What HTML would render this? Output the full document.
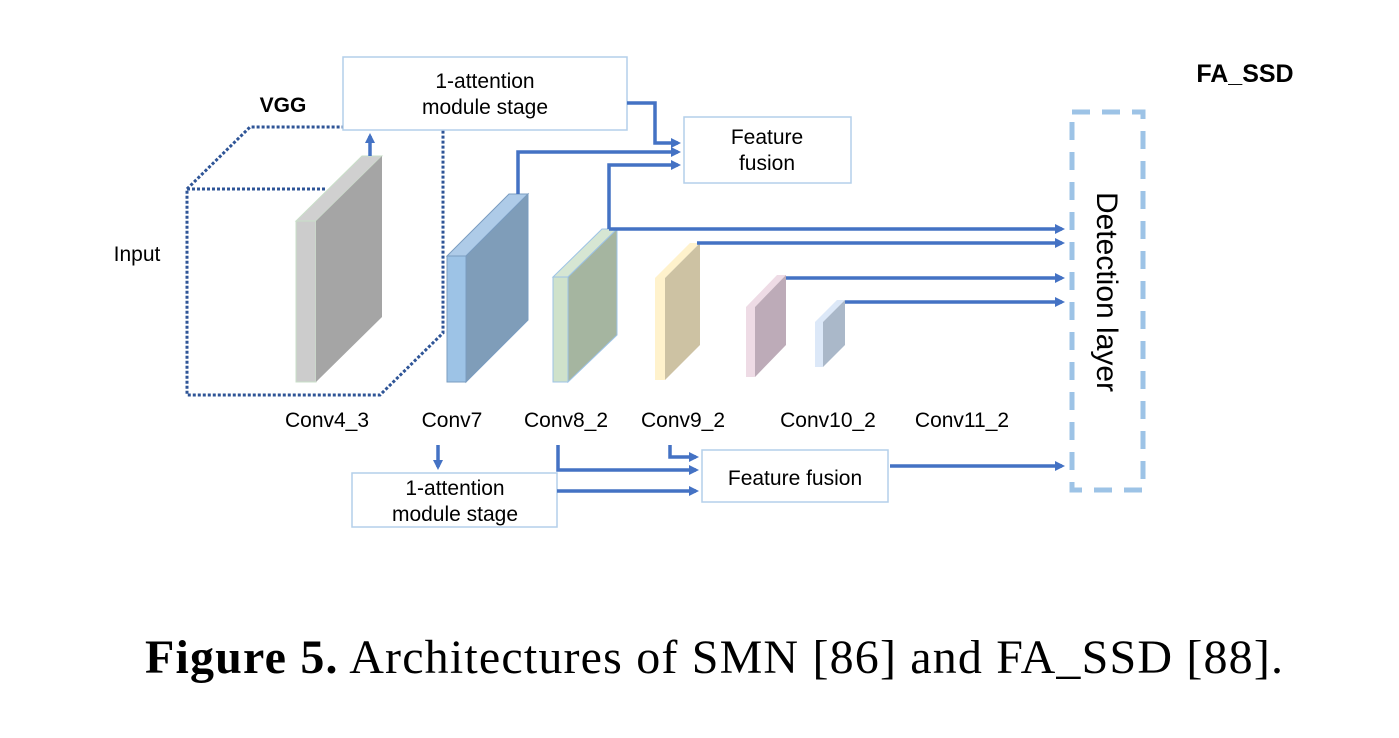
<!DOCTYPE html>
<html><head><meta charset="utf-8"><style>body{margin:0;background:#fff}svg{display:block}</style></head><body>
<svg width="1399" height="738" viewBox="0 0 1399 738" xmlns="http://www.w3.org/2000/svg" font-family="'Liberation Sans', sans-serif">
<defs><marker id="a" markerWidth="10" markerHeight="10" refX="7" refY="5" orient="auto" markerUnits="userSpaceOnUse"><path d="M0,0 L10,5 L0,10 z" fill="#4472c4"/></marker></defs>
<!-- VGG dotted -->
<path d="M187,189 L250,127 L443,127 L443,333 L380,395 L187,395 Z M187,189 L327,189" fill="none" stroke="#2f5597" stroke-width="3" stroke-dasharray="3,2"/>
<!-- conv4_3 -->
<polygon points="296,221 316,221 382,156 362,156" fill="#d0d0d0" stroke="#c9dfc8"/>
<rect x="296" y="221" width="20" height="161" fill="#cccccc" stroke="#c9dfc8"/>
<polygon points="316,221 382,156 382,317 316,382" fill="#a5a5a5"/>
<!-- conv7 -->
<polygon points="447,256 466,256 528,194 509,194" fill="#aecbe8" stroke="#7a9cc0"/>
<rect x="447" y="256" width="19" height="126" fill="#9dc3e6" stroke="#7a9cc0"/>
<polygon points="466,256 528,194 528,320 466,382" fill="#7f9db9" stroke="#7a9cc0"/>
<!-- conv8_2 -->
<polygon points="553,277 568,277 617,229 602,229" fill="#d6e6d3" stroke="#9dc3e6"/>
<rect x="553" y="277" width="15" height="105" fill="#cfe2cb" stroke="#9dc3e6"/>
<polygon points="568,277 617,229 617,335 568,382" fill="#a5b5a0" stroke="#9dc3e6"/>
<!-- conv9_2 -->
<polygon points="655,278 665,278 700,243 690,243" fill="#fff2cc"/>
<rect x="655" y="278" width="10" height="102" fill="#fff2cc"/>
<polygon points="665,278 700,243 700,345 665,380" fill="#cdc2a3"/>
<!-- conv10_2 -->
<polygon points="746,307 755,307 786,275 777,275" fill="#eedbe5"/>
<rect x="746" y="307" width="9" height="70" fill="#eedbe5"/>
<polygon points="755,307 786,275 786,345 755,377" fill="#bdabb8"/>
<!-- conv11_2 -->
<polygon points="815,322 823,322 845,300 837,300" fill="#dce8f8"/>
<rect x="815" y="322" width="8" height="45" fill="#dce8f8"/>
<polygon points="823,322 845,300 845,345 823,367" fill="#aab8c9"/>
<!-- boxes -->
<rect x="343" y="57" width="284" height="73" fill="#fff" stroke="#b4cfea" stroke-width="1.5"/>
<text x="485" y="88" font-size="21" text-anchor="middle">1-attention</text>
<text x="485" y="114" font-size="21" text-anchor="middle">module stage</text>
<rect x="684" y="117" width="167" height="66" fill="#fff" stroke="#b4cfea" stroke-width="1.5"/>
<text x="767" y="144" font-size="21" text-anchor="middle">Feature</text>
<text x="767" y="170" font-size="21" text-anchor="middle">fusion</text>
<rect x="352" y="473" width="205" height="54" fill="#fff" stroke="#b4cfea" stroke-width="1.5"/>
<text x="455" y="495" font-size="21" text-anchor="middle">1-attention</text>
<text x="455" y="521" font-size="21" text-anchor="middle">module stage</text>
<rect x="702" y="450" width="186" height="52" fill="#fff" stroke="#b4cfea" stroke-width="1.5"/>
<text x="795" y="485" font-size="21" text-anchor="middle">Feature fusion</text>
<!-- detection -->
<rect x="1072" y="112" width="71" height="378" fill="none" stroke="#9dc3e6" stroke-width="5" stroke-dasharray="18,12"/>
<text x="0" y="0" font-size="30" text-anchor="middle" transform="translate(1097,292) rotate(90)">Detection layer</text>
<!-- connectors -->
<g fill="none" stroke="#4472c4" stroke-width="3.5">
<path d="M370,156 L370,136" marker-end="url(#a)"/>
<path d="M627,103 L655,103 L655,143 L678,143" marker-end="url(#a)"/>
<path d="M518,194 L518,152 L678,152" marker-end="url(#a)"/>
<path d="M609,229 L609,165 L678,165" marker-end="url(#a)"/>
<path d="M609,229 L1062,229" marker-end="url(#a)"/>
<path d="M697,243 L1062,243" marker-end="url(#a)"/>
<path d="M786,278 L1062,278" marker-end="url(#a)"/>
<path d="M845,302 L1062,302" marker-end="url(#a)"/>
<path d="M438,445 L438,467" marker-end="url(#a)"/>
<path d="M558,445 L558,470 L696,470" marker-end="url(#a)"/>
<path d="M557,491 L696,491" marker-end="url(#a)"/>
<path d="M670,445 L670,457 L696,457" marker-end="url(#a)"/>
<path d="M890,466 L1062,466" marker-end="url(#a)"/>
</g>
<!-- labels -->
<g font-size="21">
<text x="137" y="261" text-anchor="middle">Input</text>
<text x="327" y="427" text-anchor="middle">Conv4_3</text>
<text x="452" y="427" text-anchor="middle">Conv7</text>
<text x="566" y="427" text-anchor="middle">Conv8_2</text>
<text x="683" y="427" text-anchor="middle">Conv9_2</text>
<text x="828" y="427" text-anchor="middle">Conv10_2</text>
<text x="962" y="427" text-anchor="middle">Conv11_2</text>
</g>
<text x="283" y="112" font-size="21" font-weight="bold" text-anchor="middle">VGG</text>
<text x="1245" y="82" font-size="25" font-weight="bold" text-anchor="middle">FA_SSD</text>
<text x="145" y="673" font-size="48" font-family="'Liberation Serif', serif" textLength="1138" lengthAdjust="spacing"><tspan font-weight="bold">Figure 5.</tspan> Architectures of SMN [86] and FA_SSD [88].</text>
</svg>
</body></html>
